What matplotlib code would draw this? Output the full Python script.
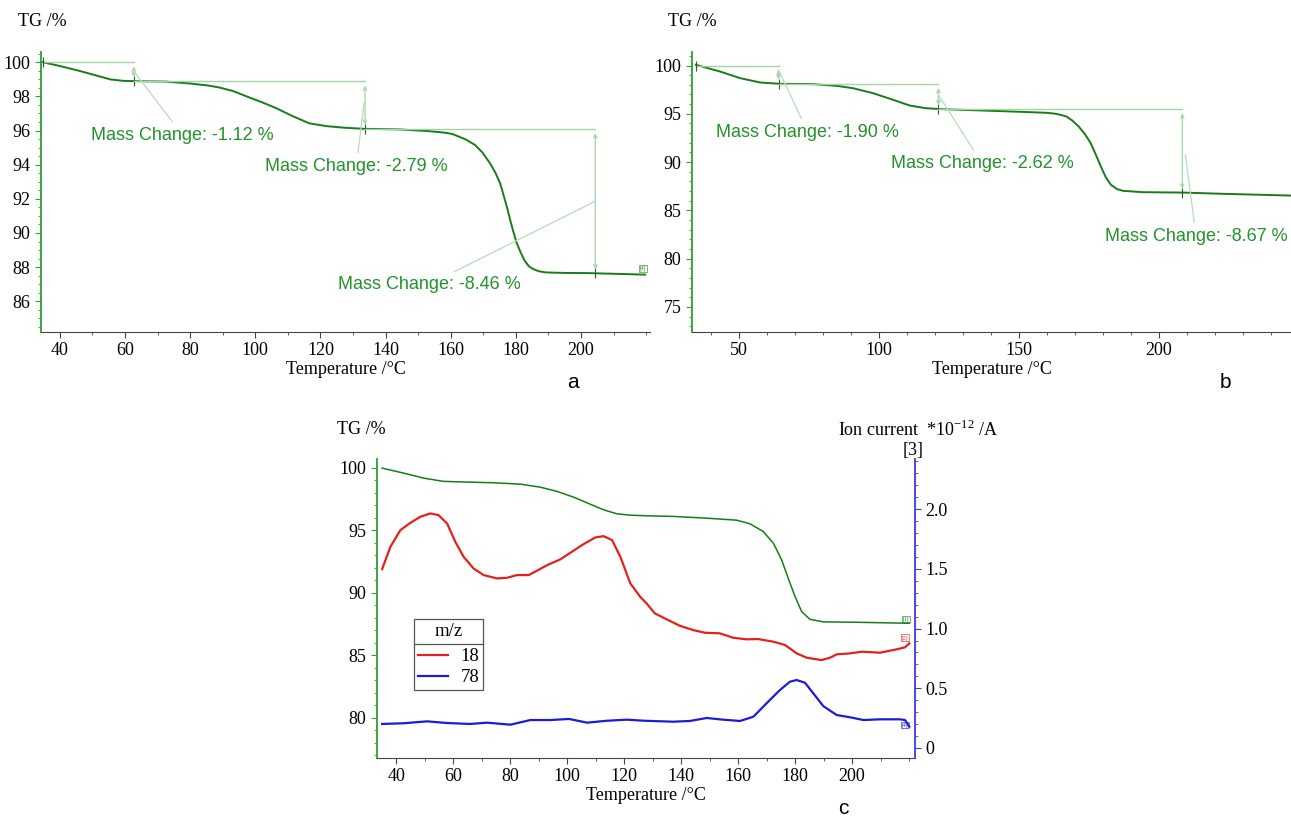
import matplotlib.pyplot as plt
import numpy as np
from matplotlib.ticker import MultipleLocator
from matplotlib.lines import Line2D

plt.rcParams['font.family'] = ['Liberation Serif', 'DejaVu Serif']
plt.rcParams['font.size'] = 13

# ---- data ----
# panel a : TG curve
temp_a = [34.8, 40.0, 46.5, 52.0, 55.6, 59.5, 63.4, 72.4, 80.2, 85.4, 89.0, 93.2, 98.4,
          102.0, 106.2, 111.4, 116.6, 121.8, 127.0, 133.4, 143.8, 152.9, 158.0, 160.5,
          164.6, 167.5, 169.8, 172.0, 173.7, 175.2, 176.3, 177.3, 178.2, 179.2, 180.2,
          181.5, 182.7, 184.0, 185.3, 187.0, 189.2, 195.0, 202.2, 210.0, 219.7]
tg_a = [100.0, 99.78, 99.47, 99.18, 98.99, 98.91, 98.89, 98.87, 98.75, 98.64, 98.52, 98.31,
        97.92, 97.66, 97.33, 96.85, 96.42, 96.26, 96.17, 96.10, 96.07, 95.97, 95.88, 95.80,
        95.48, 95.15, 94.70, 94.10, 93.54, 92.90, 92.17, 91.50, 90.81, 90.10, 89.45,
        88.85, 88.38, 88.05, 87.89, 87.76, 87.69, 87.66, 87.65, 87.61, 87.56]
steps_x_a = [34.8, 62.7, 133.7, 204.4]
steps_y_a = [100.0, 98.88, 96.09, 87.63]
changes_a = ['-1.12', '-2.79', '-8.46']

# panel b : TG curve
temp_b = [34.6, 43.2, 50.4, 57.6, 64.8, 76.3, 85.0, 90.7, 97.9, 105.1, 110.9, 116.6,
          122.4, 136.8, 151.1, 160.0, 162.6, 165.0, 166.9, 169.0, 171.3, 173.5, 175.6,
          177.5, 179.2, 181.0, 182.8, 185.0, 187.1, 194.3, 208.7, 223.1, 247.2]
tg_b = [100.07, 99.38, 98.69, 98.24, 98.10, 98.07, 97.89, 97.65, 97.13, 96.44, 95.86,
        95.58, 95.48, 95.34, 95.20, 95.10, 95.02, 94.88, 94.72, 94.30, 93.68, 92.90,
        91.95, 90.70, 89.54, 88.40, 87.64, 87.20, 87.02, 86.88, 86.84, 86.71, 86.53]
steps_x_b = [34.6, 64.1, 121.2, 208.3]
steps_y_b = [100.0, 98.10, 95.48, 86.81]
changes_b = ['-1.90', '-2.62', '-8.67']

# panel c : TG + ion currents
temp_c = [35.1, 42.7, 49.7, 56.7, 66.0, 74.2, 83.6, 90.6, 96.5, 102.3, 108.1, 112.8,
          117.5, 122.2, 128.0, 137.3, 149.0, 159.5, 164.2, 168.8, 172.4, 175.3, 177.6,
          180.0, 182.3, 185.2, 189.9, 201.6, 220.1]
tg_c = [99.97, 99.57, 99.17, 98.91, 98.85, 98.80, 98.69, 98.45, 98.11, 97.65, 97.09,
        96.64, 96.32, 96.21, 96.16, 96.11, 95.97, 95.81, 95.52, 94.91, 93.97, 92.64,
        91.17, 89.71, 88.51, 87.89, 87.68, 87.65, 87.57]

temp_18 = [35.1, 38.0, 41.5, 45.0, 48.5, 52.0, 54.9, 57.9, 60.8, 63.7, 67.2, 70.7, 75.4,
           78.9, 82.4, 86.5, 89.4, 93.0, 97.6, 101.1, 105.8, 109.9, 112.8, 115.8, 118.7,
           122.2, 125.7, 127.9, 130.8, 135.0, 139.6, 144.3, 148.4, 153.6, 158.3, 163.0,
           167.1, 172.4, 176.5, 180.6, 184.1, 189.3, 192.3, 194.6, 199.3, 203.4, 209.8,
           215.7, 218.6, 220.1]
ion_18 = [1.498, 1.684, 1.824, 1.885, 1.936, 1.964, 1.950, 1.880, 1.726, 1.601, 1.503,
          1.448, 1.420, 1.425, 1.448, 1.448, 1.484, 1.531, 1.579, 1.634, 1.707, 1.763,
          1.774, 1.741, 1.601, 1.378, 1.265, 1.211, 1.127, 1.077, 1.023, 0.987, 0.965,
          0.960, 0.923, 0.910, 0.912, 0.890, 0.862, 0.792, 0.756, 0.736, 0.756, 0.784,
          0.792, 0.806, 0.798, 0.826, 0.843, 0.876]

temp_78 = [35.1, 42.7, 50.8, 57.9, 66.0, 71.9, 80.1, 87.1, 94.1, 100.7, 107.0, 114.0,
           121.0, 127.0, 137.3, 143.1, 149.0, 154.8, 160.7, 165.4, 170.0, 174.7, 178.2,
           180.6, 183.5, 186.4, 189.9, 194.6, 199.3, 204.0, 209.8, 216.8, 218.6, 220.1]
ion_78 = [0.201, 0.207, 0.223, 0.209, 0.201, 0.212, 0.195, 0.234, 0.234, 0.243, 0.212,
          0.228, 0.237, 0.228, 0.220, 0.226, 0.251, 0.237, 0.226, 0.262, 0.374, 0.485,
          0.555, 0.569, 0.546, 0.458, 0.351, 0.276, 0.257, 0.234, 0.240, 0.240, 0.234,
          0.178]

# ---- colours ----
green = '#187c18'
txt_green = '#22922a'
light_green = '#a4d4a4'
spine_green = '#2f9f2f'
red = '#e3211c'
blue = '#1b1bd8'
spine_blue = '#3a3adf'


def style_axis(ax, xminor, yminor):
    for s in ['top', 'right']:
        ax.spines[s].set_visible(False)
    ax.spines['left'].set_color(spine_green)
    ax.spines['left'].set_linewidth(1.3)
    ax.spines['bottom'].set_color('#444444')
    ax.xaxis.set_minor_locator(MultipleLocator(xminor))
    ax.yaxis.set_minor_locator(MultipleLocator(yminor))
    ax.tick_params(axis='both', which='major', length=4, direction='out', labelsize=13)
    ax.tick_params(axis='both', which='minor', length=2, direction='out')
    ax.tick_params(axis='y', which='both', color=spine_green)
    ax.tick_params(axis='x', which='both', color='#444444')
    ax.set_xlabel('Temperature /°C', fontsize=13, labelpad=1)


def mass_steps(ax, sx, sy, changes, text_pos, leader_end):
    for i in range(3):
        ax.plot([sx[i], sx[i + 1]], [sy[i], sy[i]], color=light_green, lw=1.0)
        ax.annotate('', xy=(sx[i + 1], sy[i + 1]), xytext=(sx[i + 1], sy[i]),
                    arrowprops=dict(arrowstyle='<->', color=light_green, lw=0.9,
                                    shrinkA=3, shrinkB=3, mutation_scale=6))
        ax.plot(sx[i + 1], sy[i + 1], marker='|', color='#335533', ms=7, mew=0.8)
        ax.annotate('Mass Change: %s %%' % changes[i], xy=leader_end[i], xytext=text_pos[i],
                    ha='center', va='center', color=txt_green, fontsize=13,
                    family='Liberation Sans',
                    arrowprops=dict(arrowstyle='-', color='#b8dcb8', lw=0.9,
                                    shrinkA=2, shrinkB=0))
    ax.plot(sx[0], sy[0], marker='|', color='#335533', ms=7, mew=0.8)


def tag(ax, x, y, s, c):
    ax.text(x, y, s, fontsize=4, color=c, ha='center', va='bottom',
            bbox=dict(boxstyle='square,pad=0.1', fc='none', ec=c, lw=0.4))


fig = plt.figure(figsize=(12.91, 8.16), dpi=100)

# ---- panel a ----
ax_a = fig.add_axes([41 / 1291, 1 - 332 / 816, 609 / 1291, 280 / 816])
ax_a.plot(temp_a, tg_a, color=green, lw=1.4)
mass_steps(ax_a, steps_x_a, steps_y_a, changes_a,
           [(77.7, 95.72), (131.0, 93.88), (153.4, 87.0)],
           [(62.7, 99.47), (133.4, 97.62), (204.2, 91.84)])
tag(ax_a, 219.0, 87.75, '[4]', green)
ax_a.set_xlim(34.2, 221.2)
ax_a.set_ylim(84.2, 100.6)
ax_a.set_xticks([40, 60, 80, 100, 120, 140, 160, 180, 200])
ax_a.set_yticks([86, 88, 90, 92, 94, 96, 98, 100])
style_axis(ax_a, 10, 0.5)
fig.text(18 / 1291, 1 - 22 / 816, 'TG /%', fontsize=13, ha='left', va='center')
fig.text(573 / 1291, 1 - 383 / 816, 'a', fontsize=15, family='Liberation Sans',
         ha='center', va='center')

# ---- panel b ----
ax_b = fig.add_axes([692 / 1291, 1 - 332 / 816, 599 / 1291, 280 / 816])
ax_b.plot(temp_b, tg_b, color=green, lw=1.4)
mass_steps(ax_b, steps_x_b, steps_y_b, changes_b,
           [(74.6, 93.06), (136.8, 89.84), (213.2, 82.28)],
           [(64.1, 99.55), (121.2, 96.96), (209.4, 90.75)])
ax_b.set_xlim(33.2, 247.1)
ax_b.set_ylim(72.4, 101.4)
ax_b.set_xticks([50, 100, 150, 200])
ax_b.set_yticks([75, 80, 85, 90, 95, 100])
style_axis(ax_b, 10, 1)
fig.text(668 / 1291, 1 - 22 / 816, 'TG /%', fontsize=13, ha='left', va='center')
fig.text(1225 / 1291, 1 - 383 / 816, 'b', fontsize=15, family='Liberation Sans',
         ha='center', va='center')

# ---- panel c ----
ax_c = fig.add_axes([377 / 1291, 1 - 758 / 816, 538 / 1291, 299 / 816])
ax_c.plot(temp_c, tg_c, color=green, lw=1.1)
ax_c.set_xlim(33.3, 222.1)
ax_c.set_ylim(76.8, 100.7)
ax_c.set_xticks([40, 60, 80, 100, 120, 140, 160, 180, 200])
ax_c.set_yticks([80, 85, 90, 95, 100])
style_axis(ax_c, 10, 1)
tag(ax_c, 219.0, 87.7, '[1]', green)

ax_r = ax_c.twinx()
ax_r.plot(temp_18, ion_18, color=red, lw=1.6)
ax_r.plot(temp_78, ion_78, color=blue, lw=1.6)
ax_r.set_ylim(-0.084, 2.42)
ax_r.set_yticks([0, 0.5, 1.0, 1.5, 2.0])
ax_r.set_yticklabels(['0', '0.5', '1.0', '1.5', '2.0'])
ax_r.yaxis.set_minor_locator(MultipleLocator(0.1))
for s in ['top', 'left', 'bottom']:
    ax_r.spines[s].set_visible(False)
ax_r.spines['right'].set_color(spine_blue)
ax_r.spines['right'].set_linewidth(1.3)
ax_r.tick_params(axis='y', which='major', length=4, color=spine_blue, labelsize=13)
ax_r.tick_params(axis='y', which='minor', length=2, color=spine_blue)
tag(ax_r, 218.5, 0.90, '[2]', red)
tag(ax_r, 218.5, 0.17, '[4]', blue)

handles = [Line2D([], [], color=red, lw=1.6), Line2D([], [], color=blue, lw=1.6)]
leg = ax_c.legend(handles, ['18', '78'], title='m/z', loc='lower left',
                  bbox_to_anchor=(0.0688, 0.2274), borderaxespad=0, fancybox=False,
                  edgecolor='#555555', fontsize=13.5, title_fontsize=13.5,
                  handlelength=1.6, handletextpad=0.7, borderpad=0.2,
                  labelspacing=0.2, framealpha=1)
leg._legend_box.sep = 6
leg.get_frame().set_linewidth(0.9)
leg.set_zorder(5)

fig.text(337 / 1291, 1 - 430 / 816, 'TG /%', fontsize=13, ha='left', va='center')
fig.text(838 / 1291, 1 - 430 / 816, 'Ion current  *10$^{\\mathregular{-12}}$ /A',
         fontsize=13, ha='left', va='center')
fig.text(913 / 1291, 1 - 450 / 816, '[3]', fontsize=13, ha='center', va='center')
fig.text(843 / 1291, 1 - 808 / 816, 'c', fontsize=15, family='Liberation Sans',
         ha='center', va='center')

# separator line under legend title
fig.canvas.draw()
fb = leg.get_frame().get_window_extent()
tb = leg.get_title().get_window_extent()
eb = leg.get_texts()[0].get_window_extent()
ly = 0.5 * (tb.y0 + eb.y1) / fig.bbox.height
fig.add_artist(Line2D([fb.x0 / fig.bbox.width, fb.x1 / fig.bbox.width], [ly, ly],
                      color='#555555', lw=0.9, zorder=6))

fig.savefig('out.png', dpi=100)
